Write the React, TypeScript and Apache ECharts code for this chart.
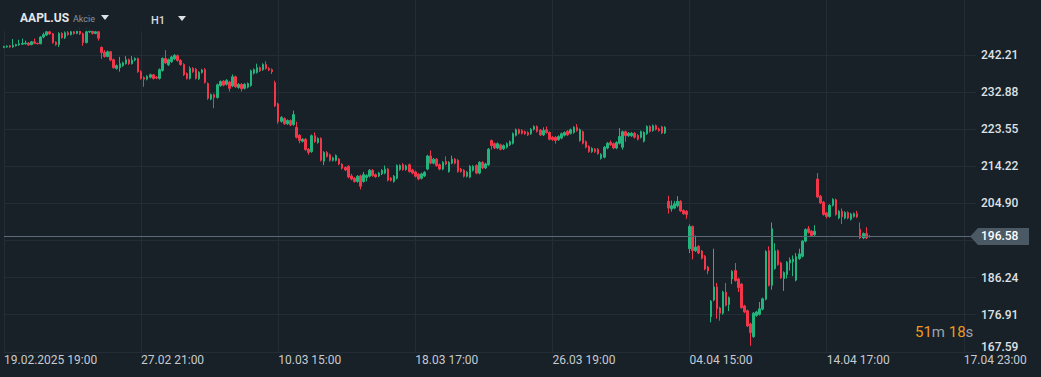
import { useEffect, useRef } from 'react';
import * as echarts from 'echarts';

// ---- tick labels / axis values ----
const tickLabels = ['19.02.2025 19:00', '27.02 21:00', '10.03 15:00', '18.03 17:00', '26.03 19:00', '04.04 15:00', '14.04 17:00', '17.04 23:00'];
const TICK_EVERY = 45;
const SLOT_COUNT = 320;
const yGridValues = [167.59, 176.91, 186.24, 195.57, 204.9, 214.22, 223.55, 232.88, 242.21];
const yLabelValues = [167.59, 176.91, 186.24, 204.9, 214.22, 223.55, 232.88, 242.21];
const symbolName = 'AAPL.US';
const symbolKind = 'Akcie';
const timeframe = 'H1';
const countdownMin = '51';
const countdownSec = '18';

// ---- candles [open, close, low, high] ----
const febA = [
  [244.1, 244.3, 243.9, 244.5], [244.2, 244.4, 244.0, 244.6], [244.5, 244.2, 244.0, 244.7], [244.2, 244.6, 244.0, 246.2],
  [244.5, 244.8, 244.3, 245.0], [244.7, 245.0, 244.5, 246.0], [244.9, 245.1, 244.7, 246.3], [245.0, 245.2, 244.8, 245.8],
  [245.2, 244.7, 244.5, 245.4], [244.8, 245.5, 244.6, 245.7], [245.5, 245.1, 244.9, 246.3], [245.1, 245.0, 244.8, 245.3],
  [245.0, 246.7, 244.9, 246.9], [246.7, 247.3, 246.4, 247.8], [247.2, 248.0, 247.0, 248.6], [248.0, 247.5, 247.2, 248.4],
  [247.5, 245.3, 245.0, 247.7], [245.4, 244.8, 244.5, 245.6], [244.8, 247.6, 244.2, 247.9], [247.6, 246.5, 246.3, 247.9],
  [246.5, 247.8, 246.2, 248.1], [247.8, 247.3, 247.0, 248.2], [247.3, 248.0, 247.1, 248.4], [248.0, 247.6, 247.3, 248.3],
  [247.6, 248.2, 247.4, 248.7], [248.2, 247.5, 247.2, 249.2], [247.5, 245.3, 244.5, 247.8], [245.3, 248.0, 245.1, 249.2],
  [248.0, 248.4, 247.7, 248.8], [248.4, 247.6, 247.3, 248.6], [247.6, 248.0, 247.4, 248.3], [248.0, 246.4, 245.8, 248.2],
  [244.1, 242.8, 241.2, 244.3],
];
const febB = [
  [242.9, 241.8, 241.5, 243.4], [241.8, 243.0, 241.6, 243.3], [243.0, 240.9, 240.6, 243.2], [241.0, 239.0, 238.7, 241.3],
  [238.8, 239.5, 238.5, 239.8], [239.0, 240.0, 238.0, 241.7], [239.5, 240.2, 239.2, 240.5], [240.0, 241.0, 239.8, 241.9],
  [241.0, 240.0, 239.7, 241.3], [240.0, 240.9, 239.8, 241.9], [240.9, 241.3, 240.6, 241.6], [241.3, 238.0, 237.7, 241.5],
  [238.0, 236.3, 236.0, 238.3], [236.5, 236.1, 234.2, 236.8], [236.1, 236.8, 235.8, 237.1], [236.6, 237.2, 236.3, 237.5],
  [237.2, 236.3, 236.0, 237.4], [236.6, 236.4, 236.1, 236.9], [236.3, 238.5, 236.0, 238.8], [238.3, 241.3, 238.0, 241.6],
  [241.3, 240.2, 239.9, 243.4], [239.7, 241.0, 239.4, 241.3], [240.5, 241.7, 240.2, 242.0], [241.2, 242.1, 240.9, 242.4],
  [242.0, 240.8, 240.5, 242.3], [240.8, 239.8, 239.5, 241.1], [239.8, 237.2, 236.9, 240.1], [237.5, 236.3, 236.0, 237.8],
];
const marA = [
  [236.3, 238.8, 236.0, 239.3], [238.8, 238.0, 237.7, 239.1], [238.6, 236.3, 236.0, 238.9], [236.2, 237.8, 235.9, 238.1],
  [237.8, 238.4, 237.5, 238.7], [238.5, 235.3, 235.0, 238.9], [235.0, 231.3, 230.9, 235.3], [231.1, 232.2, 230.8, 232.5],
  [232.2, 231.5, 228.8, 232.5], [231.5, 234.7, 231.2, 235.0], [234.5, 235.5, 234.2, 235.8], [235.6, 234.6, 234.3, 235.9],
  [234.8, 235.8, 234.5, 236.1], [235.4, 233.8, 233.0, 235.7], [234.4, 236.7, 234.1, 237.3], [236.7, 234.2, 233.9, 237.0],
  [234.0, 234.8, 233.7, 235.1], [234.8, 233.7, 233.0, 235.1], [233.8, 234.8, 233.5, 235.1], [234.1, 235.0, 233.8, 235.3],
  [234.5, 238.2, 234.2, 238.5], [237.6, 238.5, 237.3, 238.8], [237.8, 239.0, 237.5, 240.0], [239.0, 238.2, 237.9, 239.3],
  [238.5, 239.8, 238.2, 240.1], [239.8, 238.8, 238.5, 240.6], [238.8, 238.4, 238.1, 239.1], [238.5, 238.0, 237.4, 238.8],
];
const marB = [
  [235.2, 229.4, 229.1, 235.7], [229.9, 225.4, 224.9, 230.2], [225.5, 226.5, 225.2, 226.8], [226.2, 224.9, 224.6, 226.5],
  [224.9, 225.7, 224.6, 226.0], [225.7, 224.6, 224.3, 226.0], [224.7, 227.2, 224.4, 228.2], [224.0, 221.5, 221.2, 225.4],
  [222.0, 220.7, 220.0, 222.3], [220.5, 221.0, 220.2, 221.3], [221.0, 218.4, 218.1, 221.3], [218.5, 217.7, 217.1, 218.8],
  [217.9, 221.9, 217.6, 222.2], [221.9, 220.4, 220.1, 222.7], [220.2, 221.2, 219.9, 221.5], [221.2, 215.7, 215.4, 221.5],
  [215.5, 217.7, 214.5, 218.0], [217.7, 216.7, 216.4, 218.0], [217.1, 215.7, 215.4, 217.4], [215.7, 216.3, 215.4, 216.6],
  [215.7, 216.9, 215.4, 217.2], [216.0, 214.8, 214.5, 216.3], [214.7, 213.7, 213.4, 215.0], [213.9, 213.3, 213.0, 214.2],
  [214.2, 211.5, 211.2, 214.5], [211.8, 211.0, 210.7, 212.3], [211.2, 210.4, 210.1, 211.5], [210.4, 211.7, 210.1, 212.0],
  [211.8, 209.2, 208.4, 212.1], [210.4, 212.1, 210.1, 212.8], [211.4, 211.9, 210.4, 212.2], [211.7, 213.2, 211.4, 213.5],
  [213.2, 211.9, 211.6, 213.5], [212.1, 211.6, 211.3, 212.4], [211.8, 212.5, 211.5, 212.8], [212.3, 213.2, 212.0, 213.5],
  [212.5, 213.5, 212.2, 214.4], [213.5, 210.7, 210.4, 213.8], [211.2, 210.7, 210.4, 211.5], [210.4, 211.7, 210.1, 212.0],
  [211.2, 214.4, 210.9, 214.7], [213.4, 214.4, 213.1, 214.7], [214.6, 213.4, 213.1, 215.0], [213.4, 214.3, 213.1, 214.6],
  [214.6, 212.9, 212.6, 214.9], [213.3, 212.5, 212.2, 213.6], [212.8, 211.7, 211.4, 213.1], [212.2, 211.0, 210.7, 212.5],
];
const marC = [
  [211.2, 212.3, 210.9, 212.6], [211.8, 212.7, 211.5, 213.0], [213.5, 216.8, 213.2, 217.1], [216.8, 215.0, 214.7, 218.2],
  [215.0, 216.0, 214.7, 216.3], [216.0, 214.4, 214.1, 216.3], [214.6, 213.5, 213.2, 214.9], [213.5, 215.2, 213.2, 215.5],
  [215.4, 214.8, 214.5, 216.7], [212.9, 215.2, 212.6, 215.5], [215.0, 216.0, 214.7, 216.9], [216.0, 215.0, 214.7, 216.3],
  [215.7, 212.9, 212.6, 216.0], [213.5, 212.9, 212.6, 213.8], [213.2, 211.7, 211.4, 213.5], [211.7, 212.7, 211.4, 213.0],
  [211.5, 214.2, 211.2, 214.5], [213.2, 214.2, 212.9, 214.5], [214.4, 212.5, 212.2, 214.7], [212.5, 215.2, 212.2, 215.5],
  [215.2, 213.8, 213.5, 215.5], [213.8, 214.8, 213.5, 215.1], [214.6, 218.5, 214.3, 218.8], [220.7, 219.4, 218.4, 220.9],
  [219.9, 218.8, 218.5, 220.2], [218.8, 219.9, 218.5, 220.2], [219.6, 218.5, 218.2, 219.9], [218.6, 219.4, 218.3, 219.7],
  [219.0, 219.9, 218.7, 220.2], [219.6, 220.4, 219.3, 220.7], [220.0, 222.4, 219.7, 222.7], [222.0, 223.4, 221.7, 223.7],
  [223.4, 222.5, 222.2, 223.7], [223.2, 222.5, 222.2, 223.5], [222.9, 222.4, 222.1, 223.2], [222.7, 222.1, 221.8, 223.0],
  [222.4, 223.5, 222.1, 223.8], [223.5, 224.2, 223.2, 224.5], [224.2, 223.0, 222.7, 224.5], [223.3, 222.1, 221.8, 223.6],
  [222.1, 223.2, 221.8, 224.0], [223.4, 222.7, 222.4, 224.2], [222.7, 221.0, 220.7, 223.0], [221.5, 220.9, 220.6, 221.8],
];
const marD = [
  [221.5, 220.7, 219.9, 221.8], [220.9, 221.7, 220.6, 222.0], [221.3, 222.4, 221.0, 222.7], [222.0, 222.7, 221.7, 223.0],
  [223.0, 222.1, 221.8, 223.3], [222.5, 223.4, 222.2, 223.7], [222.7, 224.0, 222.4, 224.3], [224.0, 223.2, 222.9, 224.8],
  [220.7, 223.4, 220.4, 223.7], [222.9, 220.0, 219.7, 223.2], [220.4, 219.0, 218.7, 220.7], [219.2, 217.9, 217.6, 219.5],
  [217.9, 218.7, 217.6, 219.0], [218.5, 217.9, 217.6, 218.8], [218.5, 217.4, 217.1, 218.8], [216.2, 217.2, 215.9, 217.5],
  [216.5, 219.0, 216.2, 219.3], [218.8, 220.0, 218.5, 220.3], [220.2, 219.6, 219.3, 220.7], [219.9, 218.8, 218.5, 220.2],
  [218.8, 220.2, 218.5, 220.5], [220.0, 221.7, 219.7, 223.8], [219.0, 222.9, 218.4, 223.2], [222.9, 221.9, 220.4, 223.2],
  [221.9, 222.5, 221.6, 222.8], [221.9, 222.5, 221.6, 222.8], [222.5, 221.5, 221.2, 222.8], [222.0, 221.0, 220.7, 222.3],
  [221.5, 222.9, 221.2, 223.2], [220.5, 222.7, 220.2, 223.0], [222.4, 224.2, 222.1, 224.5], [224.2, 223.0, 222.7, 224.5],
  [223.2, 224.4, 222.9, 224.7], [224.4, 223.5, 223.2, 224.7], [223.6, 223.2, 222.9, 223.9], [224.1, 222.6, 222.3, 224.4],
  [222.6, 224.0, 222.3, 224.3],
];
const aprA = [
  [205.4, 203.7, 202.3, 206.8], [203.5, 204.3, 202.8, 205.6], [203.7, 204.8, 203.4, 205.5], [204.3, 205.4, 203.9, 206.7],
  [205.4, 203.0, 202.7, 205.7], [203.1, 202.3, 202.0, 203.4], [202.9, 202.1, 201.0, 203.2],
  [193.5, 199.1, 192.4, 199.6], [199.1, 193.0, 190.8, 199.3], [193.0, 193.9, 192.7, 196.8], [194.1, 192.4, 192.1, 194.4],
  [192.9, 191.1, 190.8, 193.2], [191.6, 188.4, 188.1, 191.9], [188.9, 187.9, 187.1, 189.2],
];
const aprB = [
  [176.4, 180.3, 175.0, 180.6], [180.6, 183.9, 180.3, 193.5], [183.9, 178.4, 175.9, 184.9], [178.6, 177.3, 175.4, 178.9],
  [177.3, 182.6, 176.9, 182.9], [182.6, 179.3, 179.0, 184.9], [179.5, 181.2, 177.8, 181.5],
  [185.9, 187.8, 184.6, 188.1], [188.0, 185.5, 185.2, 189.9], [185.9, 183.7, 182.6, 186.2], [184.6, 178.7, 178.4, 184.9],
  [179.1, 177.6, 177.3, 179.4], [177.9, 174.1, 173.8, 178.2], [174.6, 172.4, 169.1, 174.9],
  [171.4, 177.3, 171.1, 177.6], [176.7, 177.6, 176.4, 177.9], [177.0, 178.4, 176.7, 180.1], [178.3, 180.9, 178.0, 181.2],
  [180.8, 192.8, 180.5, 193.1], [193.0, 184.3, 184.0, 194.1], [184.3, 198.5, 183.2, 200.1],
];
const aprC = [
  [188.5, 193.0, 188.2, 194.9], [193.0, 189.5, 189.2, 193.3], [189.9, 186.2, 185.9, 190.2], [186.0, 187.5, 182.9, 187.8],
  [187.0, 190.1, 186.0, 190.4], [189.9, 190.7, 188.0, 191.3], [190.2, 190.9, 186.6, 191.8],
  [185.6, 191.5, 185.3, 192.4], [191.0, 192.2, 190.7, 193.5], [191.6, 195.4, 191.3, 195.7], [195.4, 198.3, 195.1, 198.6],
  [198.5, 197.6, 197.3, 199.2], [197.9, 196.8, 196.5, 198.2], [197.0, 197.9, 196.7, 199.4],
];
const aprD = [
  [211.0, 206.5, 206.2, 212.5], [206.7, 205.0, 204.7, 207.0], [205.2, 202.1, 201.8, 205.5], [202.5, 201.6, 201.1, 202.8],
  [201.6, 204.4, 201.3, 204.7], [204.4, 205.9, 204.1, 206.2], [205.8, 202.1, 201.8, 206.1],
  [201.2, 202.9, 200.9, 203.2], [202.9, 201.5, 199.7, 203.6], [201.2, 202.6, 200.9, 202.9], [202.6, 201.2, 200.9, 202.9],
  [200.9, 202.2, 200.6, 202.5], [201.6, 202.3, 201.3, 202.6], [202.3, 201.5, 201.2, 203.0],
  [198.4, 196.2, 195.9, 200.1], [196.2, 197.3, 195.9, 197.6], [197.3, 196.2, 195.9, 198.9], [196.6, 196.58, 196.3, 196.9],
];

const candles = [...febA, ...febB, ...marA, ...marB, ...marC, ...marD, ...aprA, ...aprB, ...aprC, ...aprD];
const lastClose = candles[candles.length - 1][1];

const BG = '#182028';
const GRID = '#242d36';
const GREEN = '#22b47c';
const RED = '#f3364a';
const FONT = 'Roboto';

export default function App() {
  const ref = useRef<HTMLDivElement>(null);
  useEffect(() => {
    document.body.style.margin = '0';
    document.body.style.background = BG;
    const chart = echarts.init(ref.current!, undefined, { renderer: 'svg' });
    const slots = Array.from({ length: SLOT_COUNT }, (_, i) => String(i));
    const every = (i: number) => i % TICK_EVERY === 0;
    chart.setOption({
      animation: false,
      backgroundColor: BG,
      textStyle: { fontFamily: FONT },
      grid: { left: 4, right: 65, top: 0, bottom: 25.2, containLabel: false },
      xAxis: {
        type: 'category',
        data: slots,
        boundaryGap: false,
        axisLine: { show: true, lineStyle: { color: GRID } },
        axisTick: { show: false },
        axisLabel: {
          interval: every,
          formatter: (_v: string, i: number) => tickLabels[i / TICK_EVERY] ?? '',
          align: 'left',
          margin: 2,
          color: '#c6cbd1',
          fontSize: 12,
          fontFamily: FONT,
        },
        splitLine: { show: true, interval: every, lineStyle: { color: GRID, width: 1 } },
      },
      yAxis: {
        type: 'value',
        position: 'right',
        min: 167.59,
        max: 256.0,
        axisLine: { show: false },
        axisTick: { show: false, customValues: yGridValues },
        splitLine: { show: true, lineStyle: { color: GRID, width: 1 } },
        axisLabel: {
          customValues: yLabelValues,
          margin: 5,
          color: '#dfe2e5',
          fontSize: 12,
          fontWeight: 500,
          fontFamily: FONT,
          formatter: (v: number) => (v === yLabelValues[0] ? '{b|' + v.toFixed(2) + '}' : v.toFixed(2)),
          rich: { b: { color: '#dfe2e5', fontSize: 12, fontWeight: 500, fontFamily: FONT, padding: [0, 0, 10, 0] } },
        },
      },
      series: [
        {
          type: 'candlestick',
          data: candles,
          barWidth: 2,
          clip: false,
          itemStyle: { color: GREEN, color0: RED, borderColor: GREEN, borderColor0: RED, borderWidth: 1 },
          markLine: {
            silent: true,
            symbol: ['none', 'none'],
            label: { show: false },
            lineStyle: { color: '#5b6a76', width: 1, type: 'solid' },
            data: [{ yAxis: lastClose }],
          },
        },
      ],
    });
    const py = chart.convertToPixel({ yAxisIndex: 0 }, lastClose) as number;
    chart.setOption({
      graphic: [
        { type: 'rect', z: 100, shape: { x: 0, y: 0, width: 232, height: 31 }, style: { fill: BG, opacity: 0.88 } },
        { type: 'text', z: 101, x: 20, y: 18, style: { text: symbolName, fill: '#e4e7ea', fontSize: 12, fontWeight: 'bold', fontFamily: FONT, verticalAlign: 'middle' } },
        { type: 'text', z: 101, x: 73, y: 19, style: { text: symbolKind, fill: '#8c959d', fontSize: 9, fontFamily: FONT, verticalAlign: 'middle' } },
        { type: 'polygon', z: 101, shape: { points: [[101, 15], [109, 15], [105, 20]] }, style: { fill: '#dfe2e5' } },
        { type: 'text', z: 101, x: 151, y: 20, style: { text: timeframe, fill: '#d8dce0', fontSize: 11, fontWeight: 500, fontFamily: FONT, verticalAlign: 'middle' } },
        { type: 'polygon', z: 101, shape: { points: [[178, 16], [186, 16], [182, 21]] }, style: { fill: '#dfe2e5' } },
        {
          type: 'polygon', z: 101,
          shape: { points: [[970, py], [978, py - 8.5], [1029, py - 8.5], [1029, py + 8.5], [978, py + 8.5]] },
          style: { fill: '#4a5964' },
        },
        { type: 'text', z: 102, x: 981, y: py, style: { text: lastClose.toFixed(2), fill: '#ffffff', fontSize: 12, fontWeight: 500, fontFamily: FONT, verticalAlign: 'middle' } },
        {
          type: 'text', z: 101, x: 915, y: 332,
          style: {
            text: '{o|' + countdownMin + '}{g|m }{o|' + countdownSec + '}{g|s}',
            verticalAlign: 'middle',
            fontSize: 15,
            fontFamily: FONT,
            rich: {
              o: { fill: '#f29a1d', fontSize: 15, fontFamily: FONT },
              g: { fill: '#9aa3ab', fontSize: 15, fontFamily: FONT },
            },
          },
        },
      ],
    });
    return () => chart.dispose();
  }, []);
  return <div ref={ref} style={{ width: 1041, height: 377, background: BG }} />;
}
